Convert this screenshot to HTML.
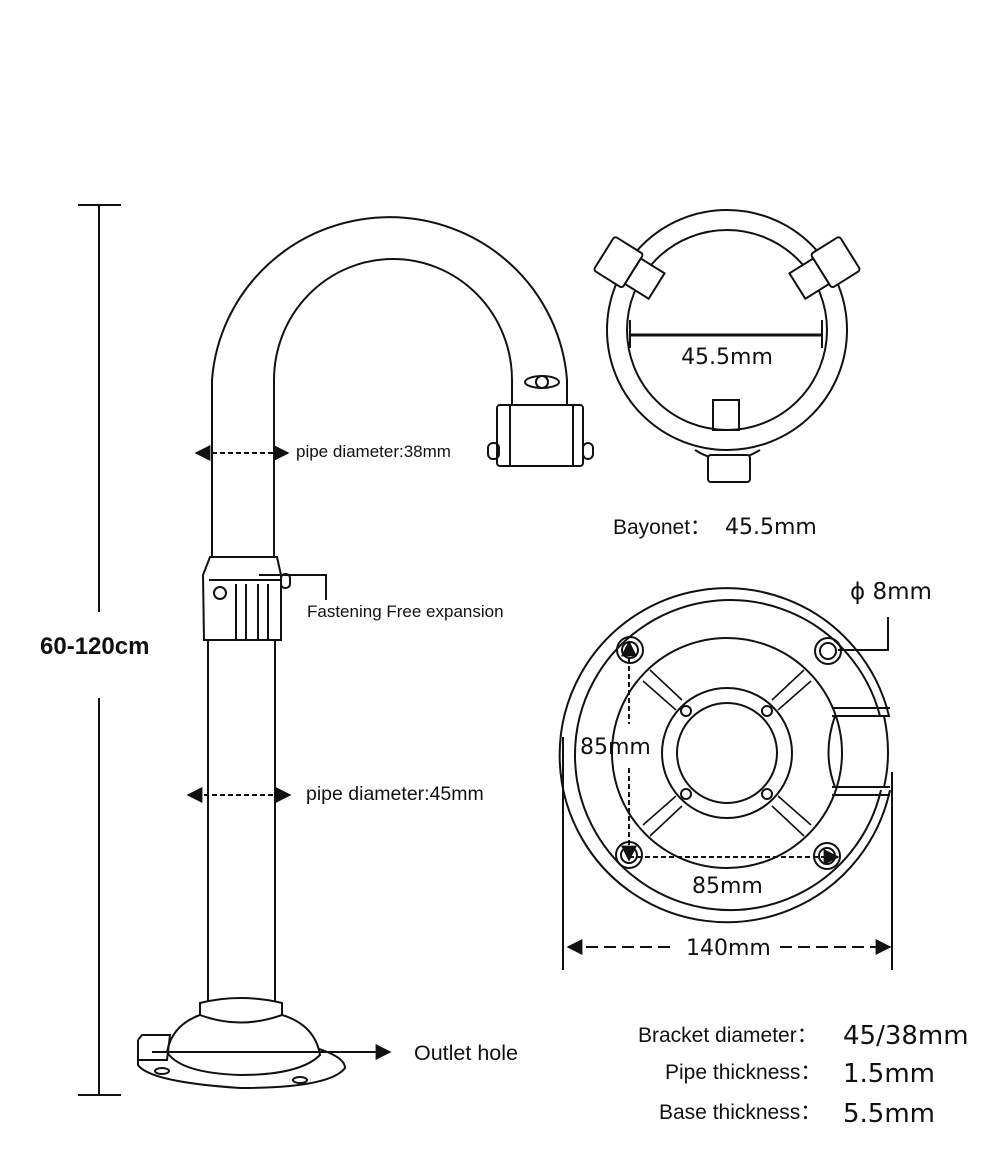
<!DOCTYPE html>
<html><head><style>
html,body{margin:0;padding:0;background:#fff}
svg{display:block}
text{font-family:"Liberation Sans",sans-serif;fill:#111}
.d{font-family:"DejaVu Sans",sans-serif}
</style></head><body>
<svg width="1000" height="1172" viewBox="0 0 1000 1172" xmlns="http://www.w3.org/2000/svg">
<defs>
<marker id="a" viewBox="0 0 10 10" refX="9" refY="5" markerWidth="8" markerHeight="8" orient="auto-start-reverse"><path d="M0,0 L10,5 L0,10 z" fill="#111"/></marker>
</defs>
<g fill="none" stroke="#111" stroke-width="2">
<line x1="99" y1="205" x2="99" y2="612"/><line x1="99" y1="698" x2="99" y2="1095"/>
<line x1="78" y1="205" x2="121" y2="205"/><line x1="78" y1="1095" x2="121" y2="1095"/>
<path d="M212,557 L212,380 A178,176 0 0 1 567,380 L567,405"/>
<path d="M274,557 L274,380 A119,121 0 0 1 512,380 L512,405"/>
<rect x="497" y="405" width="86" height="61" rx="3" fill="#fff"/>
<line x1="510" y1="405" x2="510" y2="466"/><line x1="573" y1="405" x2="573" y2="466"/>
<rect x="488" y="443" width="11" height="16" rx="5"/><rect x="583" y="443" width="10" height="16" rx="5"/>
<ellipse cx="542" cy="382" rx="17" ry="6"/><circle cx="542" cy="382" r="6" fill="#fff"/>
<path d="M210,557 L277,557 L281,575 L281,640 L204,640 L203,575 Z" fill="#fff"/>
<line x1="209" y1="580" x2="281" y2="580"/>
<line x1="236" y1="584" x2="236" y2="640"/><line x1="246" y1="584" x2="246" y2="640"/><line x1="258" y1="584" x2="258" y2="640"/><line x1="268" y1="584" x2="268" y2="640"/>
<circle cx="220" cy="593" r="6"/><rect x="281" y="574" width="9" height="14" rx="4"/>
<line x1="208" y1="640" x2="208" y2="1008"/><line x1="275" y1="640" x2="275" y2="1008"/>
<path d="M142,1035 L170,1035 M138,1040 L138,1065 Q150,1082 240,1088 Q330,1088 345,1068 Q345,1055 305,1045"/>
<path d="M167,1052 Q172,1025 200,1015 L200,1003 Q240,993 282,1003 L282,1015 Q315,1025 320,1055 Q300,1075 240,1075 Q180,1073 167,1052 Z" fill="#fff"/>
<path d="M200,1015 Q240,1030 282,1015"/>
<path d="M138,1040 L142,1035 L170,1035 L167,1060 L138,1060"/>
<ellipse cx="162" cy="1071" rx="7" ry="3"/><ellipse cx="300" cy="1080" rx="7" ry="3"/>
<path d="M259,575 L326,575 L326,600"/>
<circle cx="727" cy="330" r="120"/><circle cx="727" cy="330" r="100"/>
<g transform="rotate(-58 727 330)"><rect x="707" y="185" width="40" height="34" rx="3" fill="#fff"/><rect x="712" y="219" width="30" height="28" fill="#fff"/></g>
<g transform="rotate(58 727 330)"><rect x="707" y="185" width="40" height="34" rx="3" fill="#fff"/><rect x="712" y="219" width="30" height="28" fill="#fff"/></g>
<rect x="713" y="400" width="26" height="30"/>
<path d="M695,450 Q727,470 760,450"/><rect x="708" y="455" width="42" height="27" rx="3" fill="#fff"/>
<line x1="630" y1="335" x2="823" y2="335" stroke-width="3"/>
<line x1="630" y1="320" x2="630" y2="348"/><line x1="822" y1="320" x2="822" y2="348"/>
<path d="M889,716 A167,167 0 1 0 890,790"/>
<path d="M880,716 A155,155 0 1 0 881,790"/>
<circle cx="727" cy="753" r="115"/>
<path d="M832,708 L890,708 M832,716 L890,716 M832,787 L890,787 M832,795 L890,795"/>
<path d="M835,716 Q822,753 835,787"/><path d="M884,716 Q892,753 884,787"/>
<circle cx="727" cy="753" r="65"/><circle cx="727" cy="753" r="50"/>
<circle cx="686" cy="711" r="5"/><circle cx="767" cy="711" r="5"/><circle cx="686" cy="794" r="5"/><circle cx="767" cy="794" r="5"/>
<g stroke-width="1.6">
<path d="M650,670 L682,700 M643,681 L676,710 M804,670 L772,700 M811,681 L778,710 M650,836 L682,806 M643,825 L676,796 M804,836 L772,806 M811,825 L778,796"/>
</g>
<circle cx="630" cy="650" r="13"/><circle cx="630" cy="650" r="8"/>
<circle cx="828" cy="651" r="13"/><circle cx="828" cy="651" r="8"/>
<circle cx="629" cy="855" r="13"/><circle cx="629" cy="855" r="8"/>
<circle cx="827" cy="856" r="13"/><circle cx="827" cy="856" r="8"/>
<path d="M838,650 L888,650 L888,617"/>
<line x1="563" y1="737" x2="563" y2="970"/><line x1="892" y1="772" x2="892" y2="970"/>
</g>
<g fill="none" stroke="#111" stroke-width="2" stroke-dasharray="5,3">
<line x1="196" y1="453" x2="288" y2="453" marker-start="url(#a)" marker-end="url(#a)"/>
<line x1="188" y1="795" x2="290" y2="795" marker-start="url(#a)" marker-end="url(#a)"/>
<line x1="629" y1="642" x2="629" y2="724" marker-start="url(#a)"/>
<line x1="629" y1="768" x2="629" y2="860" marker-end="url(#a)"/>
<line x1="629" y1="857" x2="838" y2="857" marker-end="url(#a)"/>
<line x1="568" y1="947" x2="670" y2="947" stroke-dasharray="12,6" marker-start="url(#a)"/>
<line x1="780" y1="947" x2="890" y2="947" stroke-dasharray="12,6" marker-end="url(#a)"/>
</g>
<line x1="152" y1="1052" x2="390" y2="1052" stroke="#111" stroke-width="2" marker-end="url(#a)"/>
<text x="40" y="654" font-size="24" font-weight="bold">60-120cm</text>
<text x="296" y="457" font-size="17">pipe diameter:38mm</text>
<text x="307" y="617" font-size="17">Fastening Free expansion</text>
<text x="306" y="800" font-size="19.5">pipe diameter:45mm</text>
<text x="414" y="1060" font-size="21.5">Outlet hole</text>
<text class="d" x="727" y="364" font-size="22" text-anchor="middle">45.5mm</text>
<text x="613" y="534" font-size="21">Bayonet：</text>
<text class="d" x="725" y="534" font-size="22">45.5mm</text>
<text class="d" x="850" y="599" font-size="23">ϕ 8mm</text>
<text class="d" x="580" y="754" font-size="22">85mm</text>
<text class="d" x="692" y="893" font-size="22">85mm</text>
<text class="d" x="686" y="955" font-size="22">140mm</text>
<text x="638" y="1042" font-size="21">Bracket diameter：</text>
<text class="d" x="843" y="1044" font-size="26">45/38mm</text>
<text x="665" y="1079" font-size="21">Pipe thickness：</text>
<text class="d" x="843" y="1082" font-size="26">1.5mm</text>
<text x="659" y="1119" font-size="21">Base thickness：</text>
<text class="d" x="843" y="1122" font-size="26">5.5mm</text>
</svg>
</body></html>
